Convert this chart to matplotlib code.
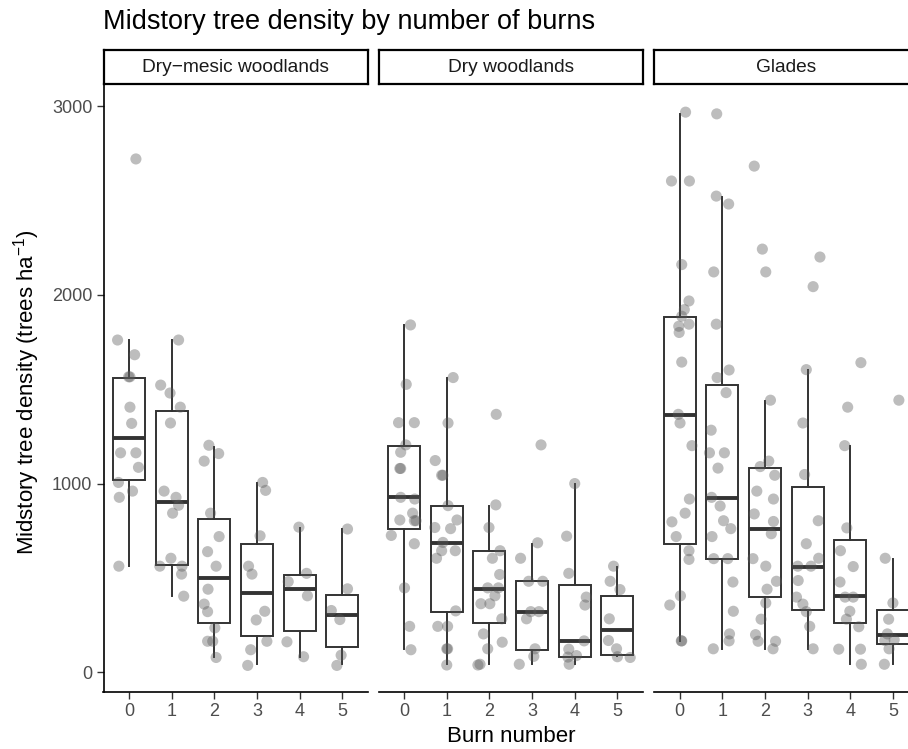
import numpy as np
import matplotlib
matplotlib.use('Agg')
import matplotlib.pyplot as plt

plt.rcParams['font.family'] = ['Liberation Sans', 'DejaVu Sans']
plt.rcParams['mathtext.fontset'] = 'custom'
plt.rcParams['mathtext.rm'] = 'Liberation Sans'
plt.rcParams['mathtext.it'] = 'Liberation Sans:italic'

# Data
burns = [0, 1, 2, 3, 4, 5]
panel_names = ['Dry\u2212mesic woodlands', 'Dry woodlands', 'Glades']

# box stats per burn number: (lower whisker, q1, median, q3, upper whisker)
drymesic_box = [(562, 1021, 1243, 1562, 1761), (403, 570, 901, 1384, 1761),
                (80, 260, 501, 813, 1195), (42, 191, 421, 681, 1002),
                (80, 220, 442, 514, 765), (42, 136, 302, 411, 759)]
dry_box = [(124, 761, 927, 1201, 1841), (42, 321, 686, 883, 1558),
           (42, 262, 440, 644, 881), (42, 119, 321, 482, 677),
           (42, 80, 164, 461, 1000), (84, 92, 224, 402, 560)]
glades_box = [(168, 681, 1365, 1885, 2960), (124, 602, 922, 1524, 2520),
              (124, 400, 761, 1082, 1440), (124, 331, 560, 983, 1600),
              (42, 262, 402, 702, 1197), (42, 151, 199, 331, 598)]

# plot-level densities (trees/ha) per burn number
drymesic_vals = [
    [2721, 1761, 1683, 1566, 1566, 1405, 1319, 1163, 1163, 1086, 1006, 960, 927, 562],
    [1761, 1522, 1480, 1405, 1321, 960, 927, 885, 843, 604, 562, 562, 520, 403],
    [1203, 1159, 1119, 843, 719, 639, 562, 440, 361, 321, 235, 164, 164, 78],
    [1006, 964, 723, 562, 520, 323, 277, 164, 119, 36],
    [769, 524, 480, 405, 161, 82],
    [759, 442, 327, 279, 90, 36],
]
dry_vals = [
    [1841, 1526, 1323, 1323, 1205, 1166, 1080, 1080, 927, 918, 843, 807, 803, 803, 725, 681, 447, 243, 119],
    [1562, 1321, 1122, 1044, 1044, 883, 807, 767, 761, 688, 644, 644, 604, 325, 243, 243, 124, 124, 38],
    [1367, 887, 767, 644, 604, 518, 447, 447, 405, 363, 363, 283, 203, 159, 124, 38, 42],
    [1205, 686, 604, 482, 482, 321, 321, 283, 124, 84, 42],
    [1000, 721, 524, 398, 356, 166, 122, 88, 80, 42],
    [562, 482, 438, 283, 168, 124, 82, 78],
]
glades_vals = [
    [2969, 2604, 2604, 2161, 1968, 1922, 1887, 1845, 1834, 1801, 1644, 1367, 1321, 1201, 918, 843, 797, 719, 644, 598, 405, 356, 166, 166],
    [2960, 2524, 2482, 2122, 1845, 1602, 1562, 1482, 1283, 1163, 1163, 1082, 927, 881, 803, 761, 719, 602, 602, 478, 323, 203, 166, 124],
    [2683, 2243, 2122, 1442, 1119, 1090, 1044, 960, 918, 839, 799, 734, 602, 562, 482, 440, 367, 281, 199, 164, 164, 124],
    [2201, 2044, 1604, 1321, 1048, 803, 681, 604, 562, 562, 486, 398, 361, 321, 243, 124],
    [1641, 1405, 1201, 765, 644, 560, 478, 398, 398, 323, 281, 241, 122, 122, 42],
    [1442, 604, 367, 281, 203, 172, 168, 124, 42],
]

# horizontal jitter of each point as seen in the picture (burn units)
drymesic_jit = [
    [0.16, -0.27, 0.13, 0.02, -0.01, 0.02, 0.06, -0.20, 0.16, 0.22, -0.25, 0.08, -0.23, -0.24],
    [0.16, -0.26, -0.04, 0.20, -0.03, -0.18, 0.10, 0.16, 0.02, -0.02, -0.28, 0.24, 0.23, 0.28],
    [-0.13, 0.10, -0.24, -0.09, 0.11, -0.16, 0.04, -0.15, -0.24, -0.16, 0.01, -0.16, -0.04, 0.04],
    [0.13, 0.20, 0.07, -0.20, -0.12, 0.18, -0.02, 0.23, -0.15, -0.22],
    [-0.02, 0.16, -0.27, 0.18, -0.30, 0.09],
    [0.12, 0.12, -0.26, -0.06, -0.03, -0.13],
]
dry_jit = [
    [0.15, 0.05, -0.13, 0.24, 0.04, -0.08, -0.08, -0.10, -0.08, 0.25, 0.20, -0.10, 0.28, 0.24, -0.30, 0.24, 0.01, 0.13, 0.16],
    [0.15, 0.03, -0.27, -0.12, -0.09, 0.03, 0.24, -0.28, 0.09, -0.09, 0.20, -0.12, -0.24, 0.21, -0.21, 0.02, 0.0, 0.02, 0.0],
    [0.16, 0.15, -0.01, 0.25, 0.07, 0.24, -0.04, 0.21, 0.13, -0.20, 0.01, 0.29, -0.14, 0.30, -0.04, -0.27, -0.22],
    [0.21, 0.13, -0.27, -0.08, 0.25, -0.03, 0.16, -0.13, 0.07, 0.04, -0.30],
    [0.0, -0.19, -0.14, 0.27, 0.24, 0.22, -0.14, 0.04, -0.16, -0.13],
    [-0.09, -0.17, 0.06, -0.19, -0.21, -0.02, 0.0, 0.30],
]
glades_jit = [
    [0.14, -0.19, 0.23, 0.05, 0.22, 0.11, 0.05, 0.22, -0.02, -0.01, 0.05, -0.03, 0.01, 0.29, 0.23, 0.13, -0.18, -0.08, 0.22, 0.22, 0.02, -0.23, 0.04, 0.05],
    [-0.13, -0.14, 0.15, -0.20, -0.14, 0.16, -0.12, 0.09, -0.26, -0.30, 0.05, -0.10, -0.25, -0.05, 0.03, 0.20, -0.24, -0.20, 0.13, 0.25, 0.26, 0.17, 0.16, -0.21],
    [-0.25, -0.06, 0.02, 0.13, 0.09, -0.11, 0.23, -0.19, 0.20, -0.25, 0.20, 0.15, -0.28, 0.02, 0.27, 0.05, 0.02, -0.09, -0.22, -0.16, 0.25, 0.19],
    [0.29, 0.13, -0.03, -0.11, -0.07, 0.25, -0.03, 0.26, -0.23, 0.08, -0.22, -0.26, -0.11, -0.03, 0.05, 0.13],
    [0.25, -0.06, -0.13, -0.08, -0.23, 0.07, -0.24, -0.12, 0.07, -0.01, -0.09, 0.20, -0.27, 0.24, 0.26],
    [0.14, -0.18, 0.0, -0.10, -0.13, 0.03, -0.19, -0.09, -0.20],
]

panels = [(drymesic_box, drymesic_vals, drymesic_jit),
          (dry_box, dry_vals, dry_jit),
          (glades_box, glades_vals, glades_jit)]

W, H = 908, 749
fig = plt.figure(figsize=(W / 100, H / 100), dpi=100)

panel_left = [103.5, 378.5, 654.0]
panel_w = 264.5
panel_top, panel_bot = 85, 692
strip_top, strip_bot = 50, 84

box_color = '#333333'
for i, (boxes, vals, jits) in enumerate(panels):
    ax = fig.add_axes([panel_left[i] / W, (H - panel_bot) / H,
                       panel_w / W, (panel_bot - panel_top) / H])
    stats = [dict(whislo=b[0], q1=b[1], med=b[2], q3=b[3], whishi=b[4], fliers=[])
             for b in boxes]
    ax.bxp(stats, positions=burns, widths=0.75, showcaps=False, showfliers=False,
           patch_artist=True,
           boxprops=dict(facecolor='white', edgecolor=box_color, linewidth=1.4),
           whiskerprops=dict(color=box_color, linewidth=1.4),
           medianprops=dict(color=box_color, linewidth=2.8, solid_capstyle='butt'))
    for b, v, j in zip(burns, vals, jits):
        ax.scatter(b + np.array(j), v, s=64, color='#5a5a5a', alpha=0.4,
                   edgecolors='none', zorder=3)

    ax.set_xlim(-0.6, 5.6)
    ax.set_ylim(-105, 3113)
    ax.set_xticks(burns)
    ax.set_xticklabels([str(b) for b in burns])
    ax.tick_params(axis='both', colors='#333333', length=5, width=1.0,
                   labelsize=13, labelcolor='#4d4d4d', pad=3)
    for s in ['top', 'right']:
        ax.spines[s].set_visible(False)
    ax.spines['bottom'].set_linewidth(1.2)
    if i == 0:
        ax.set_yticks([0, 1000, 2000, 3000])
        ax.spines['left'].set_linewidth(1.2)
    else:
        ax.spines['left'].set_visible(False)
        ax.set_yticks([])

    # facet strip
    sax = fig.add_axes([panel_left[i] / W, (H - strip_bot) / H,
                        panel_w / W, (strip_bot - strip_top) / H])
    sax.set_xticks([])
    sax.set_yticks([])
    for s in sax.spines.values():
        s.set_linewidth(1.6)
        s.set_color('black')
    sax.text(0.5, 0.5, panel_names[i], ha='center', va='center', fontsize=13.8,
             color='#1a1a1a', transform=sax.transAxes)

fig.text(103 / W, 1 - 22 / H, 'Midstory tree density by number of burns',
         ha='left', va='center', fontsize=19.5)
fig.text(511 / W, 1 - 737 / H, 'Burn number', ha='center', va='center', fontsize=16)
fig.text(27 / W, 1 - 392 / H, r'Midstory tree density (trees ha$^{-1}$)',
         ha='center', va='center', rotation=90, fontsize=16)

fig.savefig('out.png', dpi=100)
